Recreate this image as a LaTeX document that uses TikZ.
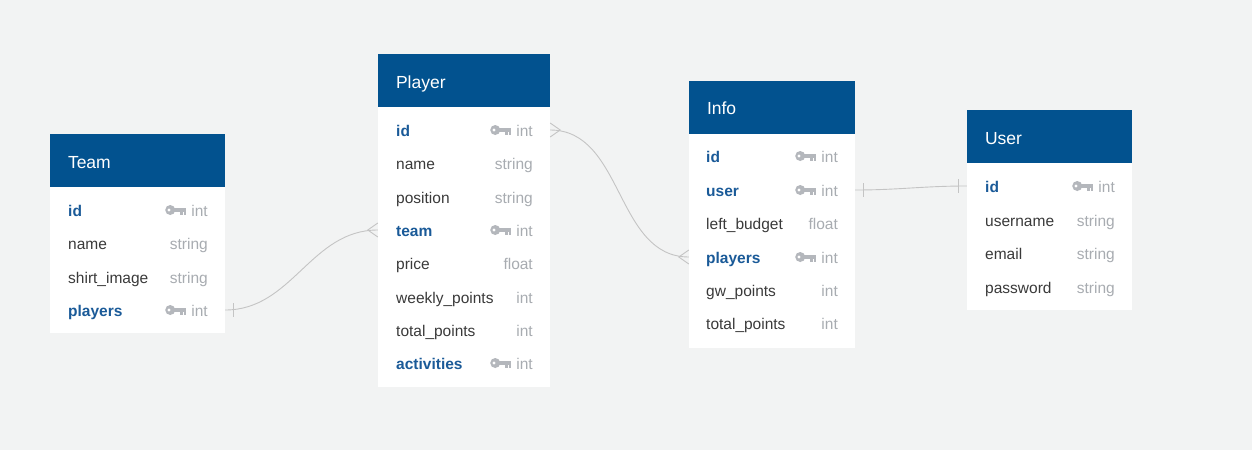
\documentclass[tikz,border=0pt]{standalone}
\usepackage{fontspec}
\setmainfont{Liberation Sans}
\definecolor{bggray}{HTML}{F2F3F3}
\definecolor{headblue}{HTML}{02528F}
\definecolor{keyblue}{HTML}{1A5A98}
\definecolor{fieldtext}{HTML}{3A3A3A}
\definecolor{typegray}{HTML}{A8ACB1}
\definecolor{icongray}{HTML}{B4B7BC}
\definecolor{linegray}{HTML}{C4C4C4}
\tikzset{
  header/.style={fill=headblue, text=white, inner xsep=18pt, inner ysep=0pt,
    minimum height=53pt, align=left, text height=15pt, text depth=0pt,
    font=\fontsize{17.5}{20}\selectfont},
  tbody/.style={fill=white, inner sep=0pt, anchor=north},
  field/.style={anchor=west, inner sep=0pt, text height=14pt, text depth=2pt,
    text=fieldtext, font=\fontsize{15.5}{18}\selectfont},
  kfield/.style={field, text=keyblue, font=\fontsize{15.5}{18}\selectfont\bfseries},
  ftype/.style={field, anchor=east, text=typegray},
  conn/.style={draw=linegray, line width=0.9pt},
  keyicon/.pic={
    \fill[icongray] (-16,0) circle[radius=5pt];
    \fill[white] (-17.2,0) circle[radius=1.6pt];
    \fill[icongray] (-13,-2.5) rectangle (0,2);
    \fill[icongray] (-6,2) rectangle (-3.5,5);
    \fill[icongray] (-2.5,2) rectangle (0,5);
  }
}
\begin{document}
\begin{tikzpicture}[x=1pt, y=-1pt]
  \useasboundingbox (0,0) rectangle (1252,450);
  \fill[bggray] (0,0) rectangle (1252,450);

  % Team
  \node[header, text width=139pt] (team) at (137.5,160.5) {Team};
  \node[tbody, minimum width=175pt, minimum height=146pt] (team-body) at (team.south) {};
  \node[kfield] (team-id) at (68,210) {id};
  \node[field] (team-name) at (68,243) {name};
  \node[field] (team-shirt) at (68,277) {shirt\_image};
  \node[kfield] (team-players) at (68,310) {players};
  \node[ftype] (team-id-t) at (208,210) {int};
  \node[ftype] (team-name-t) at (208,243) {string};
  \node[ftype] (team-shirt-t) at (208,277) {string};
  \node[ftype] (team-players-t) at (208,310) {int};
  \pic at ([xshift=-5pt]team-id-t.west) {keyicon};
  \pic at ([xshift=-5pt]team-players-t.west) {keyicon};

  % Player
  \node[header, text width=136pt] (player) at (464,80.5) {Player};
  \node[tbody, minimum width=172pt, minimum height=280pt] (player-body) at (player.south) {};
  \node[kfield] (player-id) at (396,130) {id};
  \node[field] (player-name) at (396,163) {name};
  \node[field] (player-position) at (396,197) {position};
  \node[kfield] (player-team) at (396,230) {team};
  \node[field] (player-price) at (396,263) {price};
  \node[field] (player-weekly) at (396,297) {weekly\_points};
  \node[field] (player-total) at (396,330) {total\_points};
  \node[kfield] (player-activities) at (396,363) {activities};
  \node[ftype] (player-id-t) at (533,130) {int};
  \node[ftype] (player-name-t) at (533,163) {string};
  \node[ftype] (player-position-t) at (533,197) {string};
  \node[ftype] (player-team-t) at (533,230) {int};
  \node[ftype] (player-price-t) at (533,263) {float};
  \node[ftype] (player-weekly-t) at (533,297) {int};
  \node[ftype] (player-total-t) at (533,330) {int};
  \node[ftype] (player-activities-t) at (533,363) {int};
  \pic at ([xshift=-5pt]player-id-t.west) {keyicon};
  \pic at ([xshift=-5pt]player-team-t.west) {keyicon};
  \pic at ([xshift=-5pt]player-activities-t.west) {keyicon};

  % Info
  \node[header, text width=130pt] (info) at (772,107) {Info};
  \node[tbody, minimum width=166pt, minimum height=214pt] (info-body) at (info.south) {};
  \node[kfield] (info-id) at (706,156) {id};
  \node[kfield] (info-user) at (706,190) {user};
  \node[field] (info-budget) at (706,223) {left\_budget};
  \node[kfield] (info-players) at (706,257) {players};
  \node[field] (info-gw) at (706,290) {gw\_points};
  \node[field] (info-total) at (706,323) {total\_points};
  \node[ftype] (info-id-t) at (838,156) {int};
  \node[ftype] (info-user-t) at (838,190) {int};
  \node[ftype] (info-budget-t) at (838,223) {float};
  \node[ftype] (info-players-t) at (838,257) {int};
  \node[ftype] (info-gw-t) at (838,290) {int};
  \node[ftype] (info-total-t) at (838,323) {int};
  \pic at ([xshift=-5pt]info-id-t.west) {keyicon};
  \pic at ([xshift=-5pt]info-user-t.west) {keyicon};
  \pic at ([xshift=-5pt]info-players-t.west) {keyicon};

  % User
  \node[header, text width=129pt] (user) at (1049.5,136.5) {User};
  \node[tbody, minimum width=165pt, minimum height=147pt] (user-body) at (user.south) {};
  \node[kfield] (user-id) at (985,186) {id};
  \node[field] (user-username) at (985,220) {username};
  \node[field] (user-email) at (985,253) {email};
  \node[field] (user-password) at (985,287) {password};
  \node[ftype] (user-id-t) at (1115,186) {int};
  \node[ftype] (user-username-t) at (1115,220) {string};
  \node[ftype] (user-email-t) at (1115,253) {string};
  \node[ftype] (user-password-t) at (1115,287) {string};
  \pic at ([xshift=-5pt]user-id-t.west) {keyicon};

  % relations
  \coordinate (tp-a) at (team-body.east |- team-players);
  \coordinate (tp-b) at (player-body.west |- player-team);
  \coordinate (pi-a) at (player-body.east |- player-id);
  \coordinate (pi-b) at (info-body.west |- info-players);
  \coordinate (iu-a) at (info-body.east |- info-user);
  \coordinate (iu-b) at (user-body.west |- user-id);
  \begin{scope}[conn]
    \draw (tp-a) to[out=0, in=180] (tp-b);
    \draw ([shift={(8,-7)}]tp-a) -- ([shift={(8,7)}]tp-a);
    \draw ([shift={(0,-7)}]tp-b) -- ([shift={(-10,0)}]tp-b) -- ([shift={(0,7)}]tp-b);
    \draw (pi-a) to[out=0, in=180] (pi-b);
    \draw ([shift={(0,-7)}]pi-a) -- ([shift={(10,0)}]pi-a) -- ([shift={(0,7)}]pi-a);
    \draw ([shift={(0,-7)}]pi-b) -- ([shift={(-10,0)}]pi-b) -- ([shift={(0,7)}]pi-b);
    \draw (iu-a) to[out=0, in=180] (iu-b);
    \draw ([shift={(8,-7)}]iu-a) -- ([shift={(8,7)}]iu-a);
    \draw ([shift={(-8,-7)}]iu-b) -- ([shift={(-8,7)}]iu-b);
  \end{scope}
\end{tikzpicture}
\end{document}
